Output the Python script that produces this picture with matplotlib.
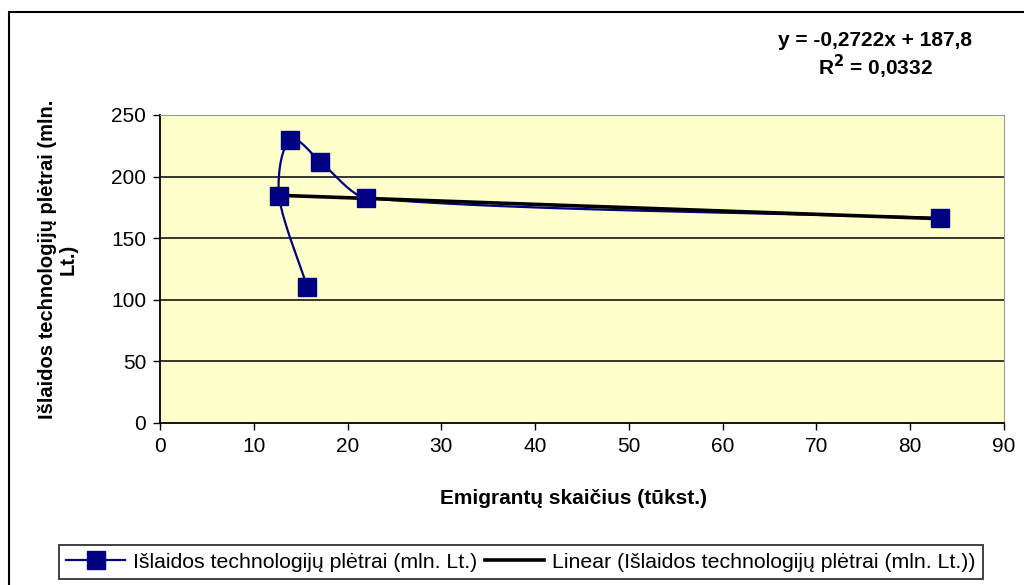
import numpy as np
import matplotlib.pyplot as plt
from matplotlib.patches import Rectangle
from matplotlib.lines import Line2D

plt.rcParams['font.family'] = ['Liberation Sans', 'DejaVu Sans']

# data (in series order)
emigrantai = [15.7, 12.7, 13.9, 17.1, 22.0, 83.2]
islaidos = [110.4, 184.0, 229.7, 212.0, 182.6, 166.4]
x_ticks = [0, 10, 20, 30, 40, 50, 60, 70, 80, 90]
y_ticks = [0, 50, 100, 150, 200, 250]
series_name = 'Išlaidos technologijų plėtrai (mln. Lt.)'
trend_name = 'Linear (Išlaidos technologijų plėtrai (mln. Lt.))'
eq_text = 'y = -0,2722x + 187,8'
r2_text = 'R$^{\\mathbf{2}}$ = 0,0332'


def smooth(xs, ys, sx, sy, f=0.25, n=40):
    # Bezier curve through the points; tangents scaled to chord length (no loops)
    p = np.column_stack([np.array(xs) * sx, np.array(ys) * sy]).astype(float)
    m = len(p)
    tang = np.zeros_like(p)
    for i in range(m):
        a = p[max(i - 1, 0)]
        c = p[min(i + 1, m - 1)]
        d = c - a
        tang[i] = d / (np.hypot(*d) + 1e-9)
    out = []
    t = np.linspace(0, 1, n)[:, None]
    for i in range(m - 1):
        p1, p2 = p[i], p[i + 1]
        L = np.hypot(*(p2 - p1))
        c1 = p1 + tang[i] * L * f
        c2 = p2 - tang[i + 1] * L * f
        seg = ((1 - t) ** 3) * p1 + 3 * ((1 - t) ** 2) * t * c1 + 3 * (1 - t) * t ** 2 * c2 + t ** 3 * p2
        out.append(seg)
    out = np.vstack(out)
    return out[:, 0] / sx, out[:, 1] / sy


fig = plt.figure(figsize=(10.24, 5.85), dpi=100)
W, H = 1024, 585

# outer chart frame
fig.patches.append(Rectangle((9 / W, -0.05), 1.1, (585 - 12) / H + 0.05, transform=fig.transFigure,
                             fill=False, edgecolor='black', linewidth=1.5))

ax = fig.add_axes([160 / W, (H - 423) / H, 844 / W, 308 / H])
ax.set_facecolor('#FFFFCC')

# pixel scale of the axes, so the smoothing is done in screen space
px_x = 844 / 90.0
px_y = 308 / 250.0
cx, cy = smooth(emigrantai, islaidos, px_x, px_y)
ax.plot(cx, cy, color='#000080', linewidth=1.6, zorder=3)
ax.plot(emigrantai, islaidos, linestyle='none', marker='s', markersize=13,
        color='#000080', zorder=4)

k, b = np.polyfit(emigrantai, islaidos, 1)
tx = np.array([min(emigrantai), max(emigrantai)])
ax.plot(tx, k * tx + b, color='black', linewidth=2.6, zorder=3.5)

ax.set_xlim(0, 90)
ax.set_ylim(0, 250)
ax.set_xticks(x_ticks)
ax.set_yticks(y_ticks)
ax.tick_params(labelsize=15, direction='out', length=5, width=1, pad=5, colors='black')
for yv in y_ticks[1:-1]:
    ax.axhline(yv, color='black', linewidth=1.1, zorder=1)

ax.spines['left'].set_color('black')
ax.spines['bottom'].set_color('black')
ax.spines['left'].set_linewidth(1.3)
ax.spines['bottom'].set_linewidth(1.3)
ax.spines['top'].set_color('#999999')
ax.spines['right'].set_color('#999999')

fig.text(573 / W, 1 - 498 / H, 'Emigrantų skaičius (tūkst.)', fontsize=15, fontweight='bold',
         ha='center', va='center')
ax.set_ylabel('Išlaidos technologijų plėtrai (mln.\nLt.)', fontsize=14.5, fontweight='bold',
              linespacing=1.1)
ax.yaxis.set_label_coords(-0.098, 0.53)

fig.text(875 / W, 1 - 40 / H, eq_text, fontsize=15, fontweight='bold', ha='center', va='center')
fig.text(875 / W, 1 - 67 / H, r2_text, fontsize=15, fontweight='bold', ha='center', va='center')

handles = [Line2D([], [], color='#000080', linewidth=1.6, marker='s', markersize=13),
           Line2D([], [], color='black', linewidth=2.6)]
leg = fig.legend(handles, [series_name, trend_name], loc='center', ncol=2,
                 bbox_to_anchor=(521 / W, 1 - 562 / H), fontsize=15.3, frameon=True,
                 fancybox=False, edgecolor='black', handlelength=2.75, handletextpad=0.4,
                 columnspacing=0.35, borderpad=0.35, borderaxespad=0)
leg.get_frame().set_linewidth(1.3)

fig.savefig('out.png', dpi=100)
